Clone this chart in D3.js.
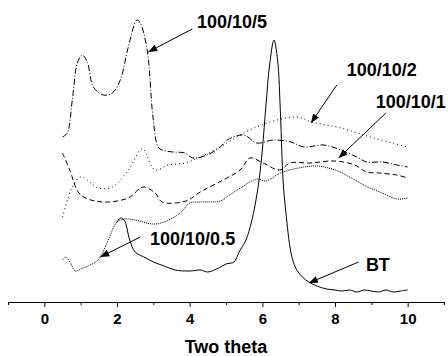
<!DOCTYPE html>
<html>
<head>
<meta charset="utf-8">
<script src="https://cdn.jsdelivr.net/npm/d3@7"></script>
<style>
body { margin: 0; background: #fff; }
text { font-family: "Liberation Sans", Arial, sans-serif; font-weight: bold; fill: #000; }
</style>
</head>
<body>
<script>
// two theta positions and intensities (arbitrary units)
// BT only shows as a solid line from its first peak on; before that it lies under 100/10/0.5
var btTheta = [1.98,2.1,2.2,2.35,2.5,2.8,3.0,3.3,3.6,4.0,4.3,4.5,4.8,5.0,5.22,5.36,5.55,5.7,5.8,5.91,6.0,6.1,6.2,6.32,6.42,6.5,6.57,6.65,6.79,6.92,7.1,7.28,7.5,7.77,8.0,8.2,8.4,8.6,8.8,9.0,9.2,9.4,9.6,9.8,10];
var btValue = [79,84,82,62,50,44,40,36,32,31,32,30,34,38,40,50,62,80,97,122,152,197,237,262,242,187,122,89,49,34,25,20,16,13,12,11,12,10,12,11,10,12,10,11,12];

var p05Theta = [0.5,0.6,0.72,0.85,1.0,1.2,1.48,1.7,1.9,2.0,2.2,2.5,2.97,3.3,3.74,4.0,4.3,4.84,5.1,5.4,5.85,6.1,6.5,7.0,7.5,8.0,8.4,8.9,9.3,9.7,10];
var p05Value = [42,45,39,31,33,36,42,57,74,80,83,82,78,80,89,99,100,101,107,114,123,121,129,134,136,132,125,115,109,103,104];

var p1Theta = [0.5,0.7,0.93,1.13,1.4,1.76,2.31,2.72,3.05,3.24,3.9,4.29,4.92,5.39,5.66,6.02,6.48,6.76,7.31,8.0,8.54,8.87,9.23,9.7,10];
var p1Value = [149,132,110,104,101,100,104,115,109,100,101,110,122,132,144,139,132,139,139,141,137,130,129,127,124];

var p2Theta = [0.5,0.66,0.77,0.99,1.18,1.48,1.87,2.31,2.64,2.72,3.05,3.41,3.87,4.29,4.84,5.49,6.13,6.95,7.36,8.16,9.07,10];
var p2Value = [85,105,115,125,122,114,115,132,152,153,132,137,139,145,155,169,179,185,180,174,164,155];

var p5Theta = [0.5,0.63,0.77,0.91,1.04,1.18,1.35,1.62,1.87,2.09,2.31,2.55,2.64,2.83,2.99,3.13,3.24,3.54,3.87,4.09,4.48,4.84,5.03,5.49,5.85,6.3,6.79,7.14,7.69,8.16,8.6,8.87,9.31,9.7,10];
var p5Value = [165,169,202,239,247,240,215,207,209,222,255,282,279,252,185,155,152,150,149,144,147,155,162,167,159,162,160,155,157,152,145,140,140,137,135];

var seriesNames = ['BT', '100/10/0.5', '100/10/1', '100/10/2', '100/10/5'];
var seriesDash = ['none', '1,1', '5,3', '1,3', '6,2,1,2'];

var xTicks = [0, 2, 4, 6, 8, 10];
var xMinorTicks = [-1, 1, 3, 5, 7, 9, 11];

// label and arrow positions in data units: [labelTheta, labelValue, fromTheta, fromValue, tipTheta, tipValue]
var notes = [
    ['100/10/5', 4.20, 274, 4.07, 273, 2.86, 250],
    ['100/10/2', 8.32, 226, 8.05, 217, 7.34, 179],
    ['100/10/1', 9.12, 194, 9.40, 189, 8.10, 144],
    ['100/10/0.5', 2.91, 57, 2.64, 65, 1.54, 45],
    ['BT', 8.85, 31, 8.65, 40, 7.28, 19]
];

var svgWidth = 448;
var svgHeight = 356;
var margin = {top: 0, right: 4, bottom: 54, left: 8};
var chartWidth = svgWidth - margin.left - margin.right;
var chartHeight = svgHeight - margin.top - margin.bottom;

var svg = d3.select('body')
    .append('svg')
    .attr('width', svgWidth)
    .attr('height', svgHeight)
    .append('g')
    .attr('transform', 'translate(' + margin.left + ',' + margin.top + ')');

var xScale = d3.scaleLinear().domain([-1, 11]).range([0, chartWidth]);
var yScale = d3.scaleLinear().domain([0, 302]).range([chartHeight, 0]);

var line = d3.line()
    .x(function(d){ return xScale(d[0]); })
    .y(function(d){ return yScale(d[1]); })
    .curve(d3.curveCatmullRom.alpha(0.5));

var allSeries = [
    d3.zip(btTheta, btValue),
    d3.zip(p05Theta, p05Value),
    d3.zip(p1Theta, p1Value),
    d3.zip(p2Theta, p2Value),
    d3.zip(p5Theta, p5Value)
];

svg.selectAll('path.curve')
    .data(allSeries)
    .enter()
    .append('path')
    .attr('class', 'curve')
    .attr('d', line)
    .attr('fill', 'none')
    .attr('stroke', '#000')
    .attr('stroke-width', 1)
    .attr('stroke-dasharray', function(d, i){ return seriesDash[i]; });

// minor ticks first, then the labelled axis
svg.append('g')
    .attr('transform', 'translate(0,' + chartHeight + ')')
    .call(d3.axisBottom(xScale).tickValues(xMinorTicks).tickSize(3).tickFormat(''))
    .call(function(g){ g.select('.domain').remove(); });

var bottomAxis = d3.axisBottom(xScale)
    .tickValues(xTicks)
    .tickSize(5)
    .tickSizeOuter(0)
    .tickPadding(6);

var axisG = svg.append('g')
    .attr('transform', 'translate(0,' + chartHeight + ')')
    .call(bottomAxis);
axisG.selectAll('text')
    .style('font-size', '15px')
    .style('font-weight', 'bold')
    .style('font-family', '"Liberation Sans", Arial, sans-serif')
    .attr('fill', '#000');
axisG.selectAll('line, path').attr('stroke', '#000');

svg.append('text')
    .attr('x', chartWidth / 2)
    .attr('y', chartHeight + 51)
    .attr('text-anchor', 'middle')
    .style('font-size', '18px')
    .text('Two theta');

// arrow heads
svg.append('defs').append('marker')
    .attr('id', 'arrow')
    .attr('viewBox', '0 0 10 10')
    .attr('refX', 10)
    .attr('refY', 5)
    .attr('markerWidth', 9)
    .attr('markerHeight', 9)
    .attr('markerUnits', 'userSpaceOnUse')
    .attr('orient', 'auto')
    .append('path')
    .attr('d', 'M0,1 L10,5 L0,9 Z')
    .attr('fill', '#000');

var noteG = svg.selectAll('g.note')
    .data(notes)
    .enter()
    .append('g')
    .attr('class', 'note');

noteG.append('line')
    .attr('x1', function(d){ return xScale(d[3]); })
    .attr('y1', function(d){ return yScale(d[4]); })
    .attr('x2', function(d){ return xScale(d[5]); })
    .attr('y2', function(d){ return yScale(d[6]); })
    .attr('stroke', '#000')
    .attr('stroke-width', 1)
    .attr('marker-end', 'url(#arrow)');

noteG.append('text')
    .attr('x', function(d){ return xScale(d[1]); })
    .attr('y', function(d){ return yScale(d[2]); })
    .style('font-size', '18px')
    .text(function(d){ return d[0]; });
</script>
</body>
</html>
